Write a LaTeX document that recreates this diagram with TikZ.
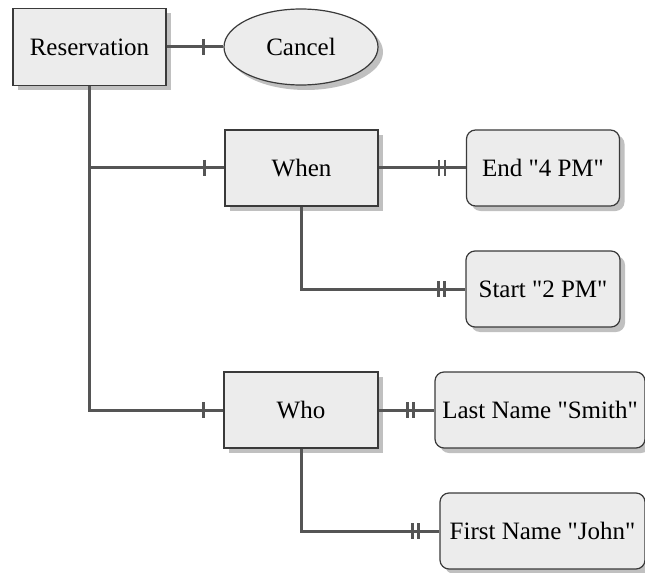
\documentclass[tikz,border=0pt]{standalone}
\usepackage{fontspec}
\setmainfont{Liberation Serif}
\usetikzlibrary{shapes.geometric,shadows}
\definecolor{boxfill}{HTML}{ECECEC}
\definecolor{boxedge}{HTML}{3A3A3A}
\definecolor{linecol}{HTML}{555555}
\definecolor{shadecol}{HTML}{C0C0C0}
% straight double quote, set as the font's own glyph for U+0022
\newcommand\sq{\XeTeXglyph\XeTeXcharglyph"22\relax}
\begin{document}
\begin{tikzpicture}[x=1bp,y=-1bp,
  every node/.style={font=\fontsize{25bp}{30bp}\selectfont},
  boxshadow/.style={drop shadow={shadow xshift=5bp,shadow yshift=-5bp,fill=shadecol,opacity=1}},
  entity/.style={rectangle,draw=boxedge,line width=1.2bp,fill=boxfill,
    minimum width=153bp,minimum height=77bp,inner sep=0pt,boxshadow},
  attr/.style={entity,rounded corners=9bp,minimum width=153bp},
  event/.style={ellipse,draw=boxedge,line width=1.2bp,fill=boxfill,
    minimum width=154bp,minimum height=76bp,inner sep=0pt,boxshadow},
  link/.style={draw=linecol,line width=3bp},
  tickmark/.style={draw=linecol,line width=2.4bp}]
\useasboundingbox (0,0) rectangle (645,573);

% entities and their attributes
\node[entity] (res) at (89.5,47) {Reservation};
\node[event] (cancel) at (301,47) {Cancel};
\node[entity,minimum height=76bp] (when) at (301.5,168) {When};
\node[attr,minimum height=76bp] (end) at (543,168) {End \sq 4 PM\sq};
\node[attr,minimum width=154bp,minimum height=76bp] (start) at (543,289) {Start \sq 2 PM\sq};
\node[entity,minimum width=154bp,minimum height=76bp] (who) at (301,410) {Who};
\node[attr,minimum width=210bp,minimum height=76bp] (last) at (540,410) {Last Name \sq Smith\sq};
\node[attr,minimum width=205bp,minimum height=76bp] (first) at (542.5,531) {First Name \sq John\sq};

% connectors
\draw[link] (res.east) -- (cancel.west);
\draw[link] (res.south) |- (who.west);
\draw[link] (res.south |- when.west) -- (when.west);
\draw[link] (when.east) -- (end.west);
\draw[link] (when.south) |- (start.west);
\draw[link] (who.east) -- (last.west);
\draw[link] (who.south) |- (first.west);

% single bars
\foreach \n in {cancel,when,who}
  \draw[tickmark] ([xshift=-20bp]\n.west) ++(0,-8) -- ++(0,16);
% double bars
\foreach \n in {end,start,last,first} {
  \draw[tickmark] ([xshift=-21bp]\n.west) ++(0,-8) -- ++(0,16);
  \draw[tickmark] ([xshift=-27bp]\n.west) ++(0,-8) -- ++(0,16);
}
\end{tikzpicture}
\end{document}
